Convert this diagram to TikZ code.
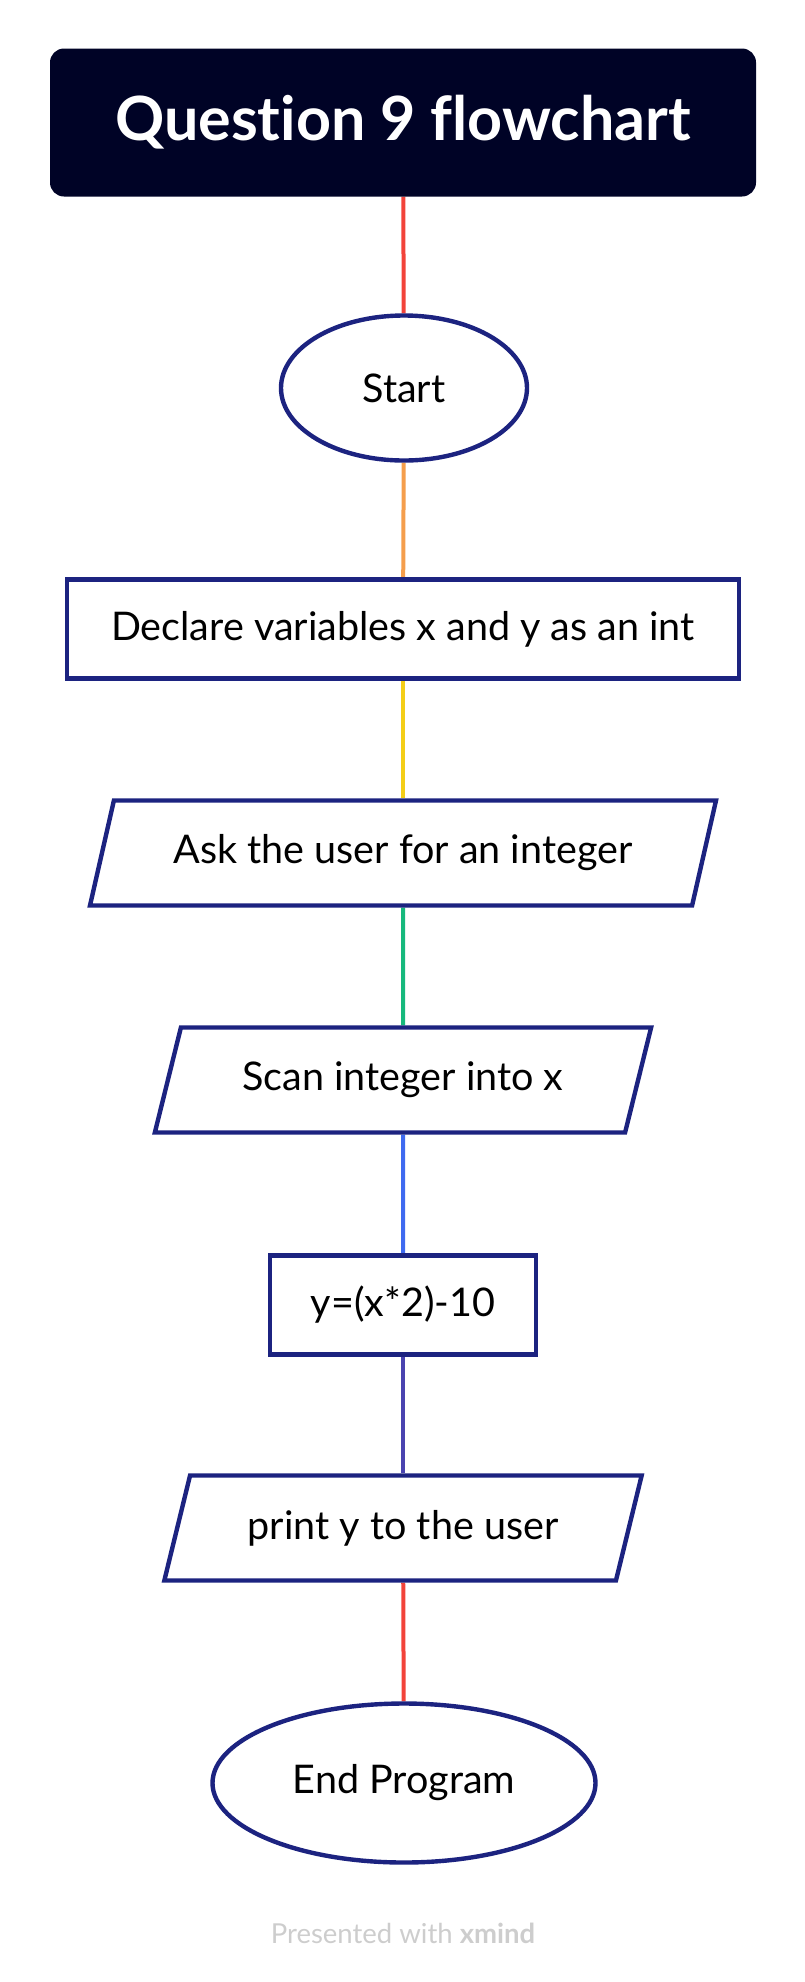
\documentclass[tikz,border=0pt]{standalone}
\usepackage{fontspec}
\setmainfont{Lato}[Ligatures={NoCommon,NoRequired,NoContextual}]
\usetikzlibrary{shapes.geometric, backgrounds}

\definecolor{navy}{HTML}{1C2380}
\definecolor{titlebg}{HTML}{000326}
\definecolor{lnred}{HTML}{F2433A}
\definecolor{lnorange}{HTML}{F59E4C}
\definecolor{lnyellow}{HTML}{F4CE17}
\definecolor{lngreen}{HTML}{17B97D}
\definecolor{lnblue}{HTML}{3F6AF0}
\definecolor{lnindigo}{HTML}{4A44B0}
\definecolor{footgray}{HTML}{CDCDCD}

\begin{document}
\begin{tikzpicture}[x=1pt, y=-1pt,
    every node/.style={font=\fontsize{39.5}{44}\selectfont, text=black},
    outline/.style={draw=navy, line width=4.4pt, fill=white, inner sep=0pt},
    terminal/.style={outline, ellipse},
    process/.style={outline, rectangle},
    io/.style={outline, trapezium, trapezium left angle=62.4,
      trapezium right angle=117.6, trapezium stretches=true},
    link/.style={line width=4pt}]
  \useasboundingbox (0,0) rectangle (804,1982);

  % titel oben
  \node[fill=titlebg, rounded corners=14pt, minimum width=706pt, minimum height=148pt,
        text=white, font=\fontsize{61}{70}\selectfont\bfseries] (title) at (403,122.5) {Question 9 flowchart};

  % ablauf von oben nach unten
  \node[terminal, minimum width=246pt, minimum height=145pt] (start) at (404,388) {Start};
  \node[process, minimum width=672pt, minimum height=99pt] (declare) at (403,629) {Declare variables x and y as an int};
  \node[io, minimum width=630pt, minimum height=105pt] (ask) at (403,853) {Ask the user for an integer};
  \node[io, minimum width=498pt, minimum height=105pt] (scan) at (403,1080) {Scan integer into x};
  \node[process, minimum width=266pt, minimum height=99pt] (calc) at (403,1305) {y=(x*2)-10};
  \node[io, minimum width=478pt, minimum height=105pt] (print) at (403,1528) {print y to the user};
  \node[terminal, minimum width=383pt, minimum height=159pt] (finish) at (404,1783) {End Program};

  \begin{scope}[on background layer]
  \draw[link, lnred]    (title)   -- (start);
  \draw[link, lnorange] (start)   -- (declare);
  \draw[link, lnyellow] (declare) -- (ask);
  \draw[link, lngreen]  (ask)     -- (scan);
  \draw[link, lnblue]   (scan)    -- (calc);
  \draw[link, lnindigo] (calc)    -- (print);
  \draw[link, lnred]    (print)   -- (finish);
  \end{scope}

  \node[text=footgray, font=\fontsize{27.5}{30}\selectfont] (footer) at (403,1933)
    {Presented with \textbf{xmind}};
\end{tikzpicture}
\end{document}
